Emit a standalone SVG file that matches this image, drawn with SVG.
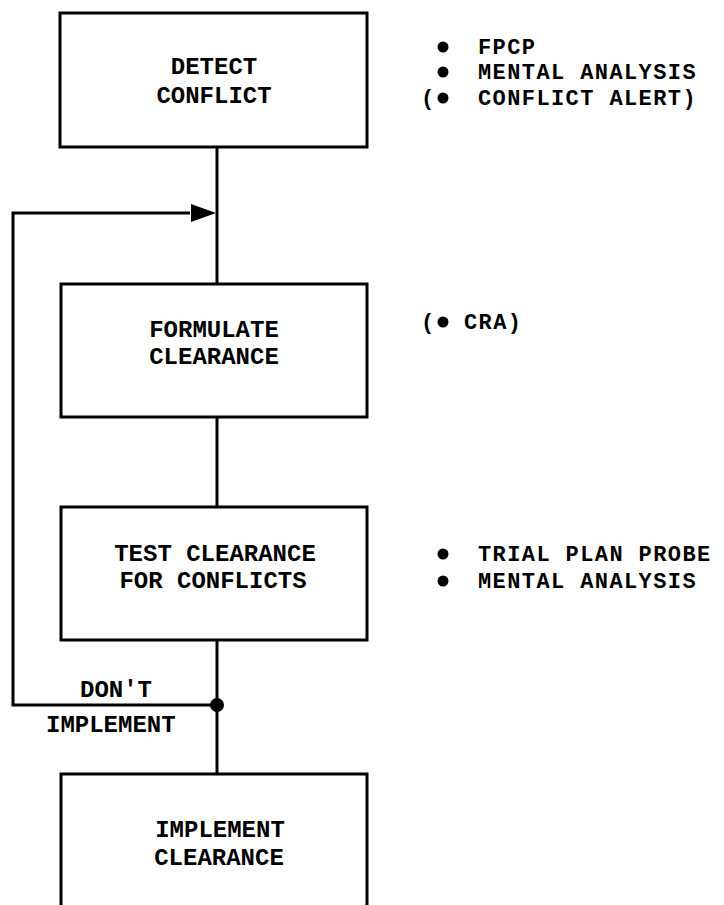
<svg xmlns="http://www.w3.org/2000/svg" width="724" height="905" viewBox="0 0 724 905">
<style>
.box{fill:none;stroke:#000;stroke-width:3}
.ln{fill:none;stroke:#000;stroke-width:3}
text{font-family:"Liberation Mono","DejaVu Sans Mono",monospace;font-weight:bold;font-size:24px;fill:#000}
.c{text-anchor:middle}
.n{font-size:22px;letter-spacing:1.4px}
</style>
<rect width="724" height="905" fill="#fff"/>
<g id="connectors">
<line class="ln" x1="217" y1="147" x2="217" y2="284"/>
<line class="ln" x1="217" y1="417" x2="217" y2="507"/>
<line class="ln" x1="217" y1="640" x2="217" y2="774"/>
<path class="ln" d="M217,705 H13 V213 H190"/>
<path d="M191,204 L216,213 L191,222 Z" fill="#000"/>
<circle cx="217" cy="705" r="7" fill="#000"/>
<text x="80" y="697">DON'T</text>
<text x="46" y="732">IMPLEMENT</text>
</g>
<g id="detect">
<rect class="box" x="60" y="13" width="307" height="134"/>
<text class="c" x="214" y="74">DETECT</text>
<text class="c" x="214" y="103">CONFLICT</text>
</g>
<g id="detect-notes">
<circle cx="443" cy="47" r="5.5"/>
<text class="n" x="478" y="54">FPCP</text>
<circle cx="443" cy="72" r="5.5"/>
<text class="n" x="478" y="79">MENTAL ANALYSIS</text>
<text class="n" x="421" y="105">(</text>
<circle cx="443" cy="98" r="5.5"/>
<text class="n" x="478" y="105">CONFLICT ALERT)</text>
</g>
<g id="formulate">
<rect class="box" x="61" y="284" width="306" height="133"/>
<text class="c" x="214" y="337">FORMULATE</text>
<text class="c" x="214" y="364">CLEARANCE</text>
</g>
<g id="formulate-notes">
<text class="n" x="421" y="329">(</text>
<circle cx="443" cy="322" r="5.5"/>
<text class="n" x="464" y="329">CRA)</text>
</g>
<g id="test">
<rect class="box" x="61" y="507" width="306" height="133"/>
<text class="c" x="215" y="561">TEST CLEARANCE</text>
<text class="c" x="213" y="588">FOR CONFLICTS</text>
</g>
<g id="test-notes">
<circle cx="443" cy="554" r="5.5"/>
<text class="n" x="478" y="561">TRIAL PLAN PROBE</text>
<circle cx="443" cy="581" r="5.5"/>
<text class="n" x="478" y="588">MENTAL ANALYSIS</text>
</g>
<g id="implement">
<path class="box" d="M61,905 V774 H367 V905"/>
<text class="c" x="220" y="837">IMPLEMENT</text>
<text class="c" x="219" y="865">CLEARANCE</text>
</g>
</svg>
